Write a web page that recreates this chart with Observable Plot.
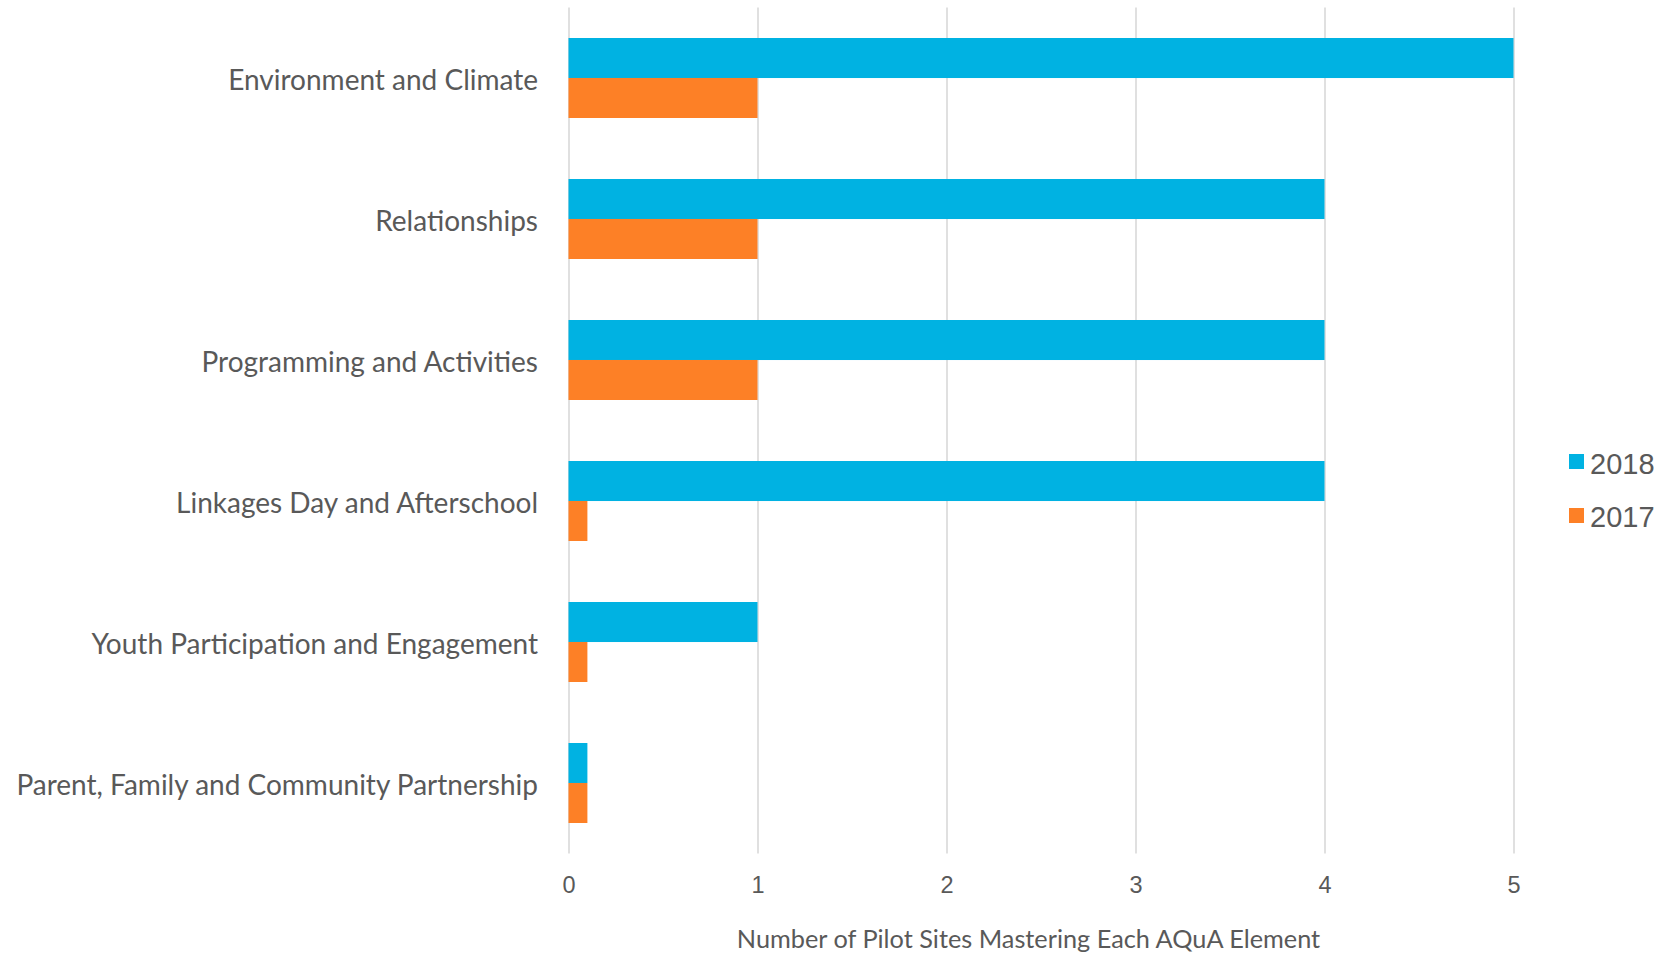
<!DOCTYPE html>
<html><head><meta charset="utf-8">
<script src="https://cdn.jsdelivr.net/npm/d3@7"></script>
<script src="https://cdn.jsdelivr.net/npm/@observablehq/plot@0.6"></script>
<style>
body{margin:0;background:#fff}
#wrap{position:relative;width:1671px;height:954px}
.sw{position:absolute;width:15px;height:15px}
.lt{position:absolute;font-family:"Liberation Sans",Arial,sans-serif;font-size:29px;line-height:29px;color:#595959;white-space:nowrap}
</style></head><body><div id="wrap"></div>
<script>
const categories = [
  "Environment and Climate",
  "Relationships",
  "Programming and Activities",
  "Linkages Day and Afterschool",
  "Youth Participation and Engagement",
  "Parent, Family and Community Partnership"
];
const values2018 = [5, 4, 4, 4, 1, 0.1];
const values2017 = [1, 1, 1, 0.1, 0.1, 0.1];
const xTicks = [0, 1, 2, 3, 4, 5];
const seriesNames = ["2018", "2017"];
const seriesColors = ["#00B2E2", "#FD8026"];
const xLabel = "Number of Pilot Sites Mastering Each AQuA Element";

const data = categories.flatMap((c, i) => [
  {category: c, year: seriesNames[0], value: values2018[i]},
  {category: c, year: seriesNames[1], value: values2017[i]}
]);

const W = 1671, H = 954, mL = 568.5, mR = 157.5, mT = 7.5, mB = 100.5;
const padInner = 0.433;
const step = (H - mT - mB) / categories.length;
const half = step * (1 - padInner) / 2;

const chart = Plot.plot({
  width: W, height: H,
  marginLeft: mL, marginRight: mR, marginTop: mT, marginBottom: mB,
  style: {fontFamily: "Lato, sans-serif", color: "#595959", background: "#fff"},
  x: {domain: [0, 5]},
  y: {domain: categories, paddingInner: padInner, paddingOuter: padInner / 2},
  color: {domain: seriesNames, range: seriesColors},
  marks: [
    Plot.gridX(xTicks, {stroke: "#d9d9d9", strokeOpacity: 1, strokeWidth: 1.6}),
    Plot.axisX(xTicks, {tickSize: 0, tickPadding: 22, tickFormat: d3.format("d"), fontSize: 23.5, fontFamily: "Liberation Sans, Arial, sans-serif", fill: "#595959", label: null}),
    Plot.axisY({tickSize: 0, tickPadding: 31, fontSize: 28, dy: 3, fill: "#595959", label: null}),
    Plot.barX(data.filter(d => d.year === seriesNames[0]), {x: "value", y: "category", fill: "year", insetBottom: half, insetTop: 0}),
    Plot.barX(data.filter(d => d.year === seriesNames[1]), {x: "value", y: "category", fill: "year", insetTop: half, insetBottom: 0}),
    Plot.text([xLabel], {frameAnchor: "bottom", dy: 86, dx: -13, fontSize: 25.3, fill: "#595959", lineAnchor: "middle"})
  ]
});
const wrap = document.getElementById("wrap");
wrap.appendChild(chart);

seriesNames.forEach((name, i) => {
  const sq = document.createElement("div");
  sq.className = "sw";
  sq.style.left = "1569px";
  sq.style.top = (454 + i * 54) + "px";
  sq.style.background = seriesColors[i];
  wrap.appendChild(sq);
  const t = document.createElement("div");
  t.className = "lt";
  t.style.left = "1590px";
  t.style.top = (449.5 + i * 53) + "px";
  t.textContent = name;
  wrap.appendChild(t);
});
</script>
</body></html>
